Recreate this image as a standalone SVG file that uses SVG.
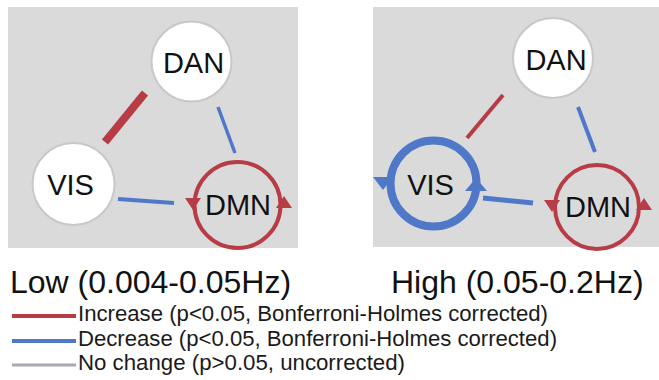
<svg xmlns="http://www.w3.org/2000/svg" width="659" height="380" viewBox="0 0 659 380">
<style>
.bg{fill:#dadada}
.node{fill:#ffffff;stroke:#c8c8c8;stroke-width:2}
.lbl{font-family:"Liberation Sans",Arial,sans-serif;font-size:29px;fill:#111;text-anchor:middle}
.title{font-family:"Liberation Sans",Arial,sans-serif;font-size:32px;fill:#111}
.leg{font-family:"Liberation Sans",Arial,sans-serif;font-size:22px;fill:#1a1a1a}
.red{stroke:#b83c46;fill:none}
.blue{stroke:#4f78c8;fill:none}
.redf{fill:#b83c46}
.bluef{fill:#4f78c8}
</style>
<rect class="bg" x="8" y="7" width="290" height="241"/>
<rect class="bg" x="373" y="7" width="286" height="240"/>
<g id="connectors">
  <line class="red" x1="145" y1="93" x2="105" y2="142" stroke-width="8"/>
  <line class="blue" x1="218" y1="107" x2="235" y2="153" stroke-width="3.5"/>
  <line class="blue" x1="118" y1="199" x2="174" y2="203" stroke-width="4"/>
  <line class="red" x1="503" y1="95" x2="467" y2="138" stroke-width="4"/>
  <line class="blue" x1="578" y1="107" x2="595" y2="152" stroke-width="4"/>
  <line class="blue" x1="483" y1="198" x2="533" y2="203" stroke-width="5"/>
</g>
<g id="dan-low">
  <circle class="node" cx="191.5" cy="61.5" r="40"/>
  <text class="lbl" x="193.5" y="73">DAN</text>
</g>
<g id="vis-low">
  <circle class="node" cx="73.5" cy="184" r="41"/>
  <text class="lbl" x="70.5" y="195">VIS</text>
</g>
<g id="dmn-low">
  <circle cx="237.5" cy="205" r="43" fill="#fff" class="red" stroke-width="4"/>
  <polygon class="redf" points="185,198 201,198 193,210"/>
  <polygon class="redf" points="276,208 292,208 284,196"/>
  <text class="lbl" x="238" y="215">DMN</text>
</g>
<g id="dan-high">
  <circle class="node" cx="553" cy="58" r="40"/>
  <text class="lbl" x="556" y="70">DAN</text>
</g>
<g id="vis-high">
  <circle cx="433.5" cy="183.5" r="43" fill="#fff" class="blue" stroke-width="8"/>
  <polygon class="bluef" points="373,177 393,177 383,190"/>
  <polygon class="bluef" points="465,191 487,191 476,178"/>
  <text class="lbl" x="430.5" y="195">VIS</text>
</g>
<g id="dmn-high">
  <circle cx="597" cy="207" r="42" fill="#fff" class="red" stroke-width="4"/>
  <polygon class="redf" points="544,200 560,200 552,212"/>
  <polygon class="redf" points="636,210 652,210 644,198"/>
  <text class="lbl" x="598" y="217">DMN</text>
</g>
<text class="title" x="10" y="293">Low (0.004-0.05Hz)</text>
<text class="title" x="391" y="293">High (0.05-0.2Hz)</text>
<g id="legend">
  <line x1="12" y1="316" x2="76" y2="316" stroke="#b83c46" stroke-width="4"/>
  <line x1="12" y1="341" x2="76" y2="341" stroke="#4f78c8" stroke-width="4"/>
  <line x1="12" y1="365" x2="76" y2="365" stroke="#a9a9b2" stroke-width="3"/>
  <text class="leg" x="78" y="321" textLength="470" lengthAdjust="spacingAndGlyphs">Increase (p&lt;0.05, Bonferroni-Holmes corrected)</text>
  <text class="leg" x="78" y="346" textLength="479" lengthAdjust="spacingAndGlyphs">Decrease (p&lt;0.05, Bonferroni-Holmes corrected)</text>
  <text class="leg" x="78" y="370" textLength="327" lengthAdjust="spacingAndGlyphs">No change (p&gt;0.05, uncorrected)</text>
</g>
</svg>
